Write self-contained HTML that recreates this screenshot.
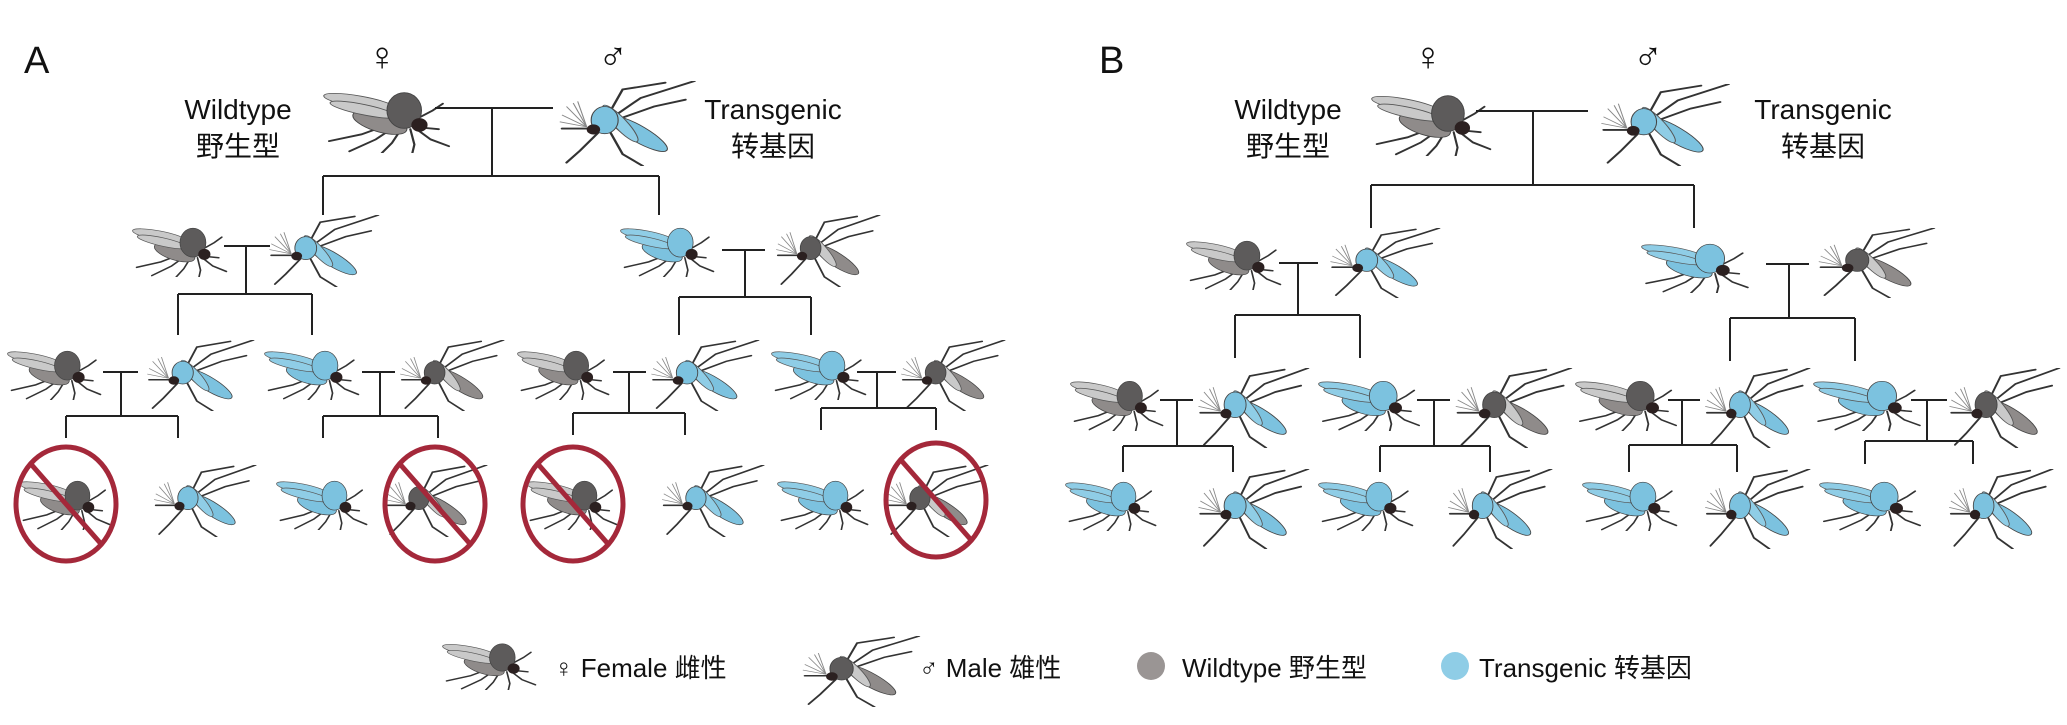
<!DOCTYPE html>
<html><head><meta charset="utf-8"><style>
html,body{margin:0;padding:0;background:#fff;}
svg{display:block;}
text{font-family:"Liberation Sans","Noto Sans CJK SC",sans-serif;fill:#111;}
</style></head><body>
<svg width="2067" height="725" viewBox="0 0 2067 725" xmlns="http://www.w3.org/2000/svg">
<defs>
<symbol id="f" viewBox="0 0 130 80" preserveAspectRatio="none">
 <g stroke="#333" stroke-width="2.2" fill="none" stroke-linecap="round">
  <polyline points="66,46 38,58 6,66"/>
  <polyline points="72,48 52,64 26,78"/>
  <polyline points="78,50 68,68 58,80"/>
  <polyline points="86,52 90,70 88,80"/>
  <polyline points="90,50 106,64 124,72"/>
  <polyline points="92,40 108,30 118,22"/>
  <line x1="96" y1="50" x2="114" y2="52"/>
 </g>
 <ellipse cx="56" cy="44" rx="28" ry="11" transform="rotate(20 56 44)" style="fill:var(--b)" stroke="#444" stroke-width="1"/>
 <ellipse cx="36" cy="20" rx="36" ry="7" transform="rotate(12 36 20)" style="fill:var(--w)" stroke="#555" stroke-width="1"/>
 <ellipse cx="40" cy="29" rx="34" ry="6" transform="rotate(14 40 29)" style="fill:var(--w)" stroke="#555" stroke-width="1"/>
 <ellipse cx="80" cy="30" rx="17" ry="21" style="fill:var(--t)" stroke="#444" stroke-width="1"/>
 <circle cx="95" cy="47" r="8" fill="#2b2020"/>
</symbol>
<symbol id="m" viewBox="0 0 130 100" preserveAspectRatio="none">
 <g stroke="#333" stroke-width="2.2" fill="none" stroke-linecap="round">
  <polyline points="50,38 62,10 100,2"/>
  <polyline points="56,40 78,20 126,0"/>
  <polyline points="60,44 90,30 118,22"/>
  <polyline points="44,56 24,82 12,96"/>
  <polyline points="50,58 62,86 80,100"/>
  <line x1="34" y1="56" x2="8" y2="56"/>
 </g>
 <g stroke="#888" stroke-width="1" fill="none">
  <line x1="30" y1="54" x2="12" y2="30"/><line x1="30" y1="54" x2="18" y2="26"/>
  <line x1="30" y1="54" x2="8" y2="40"/><line x1="30" y1="54" x2="22" y2="24"/>
  <line x1="30" y1="54" x2="6" y2="48"/>
 </g>
 <ellipse cx="76" cy="62" rx="32" ry="9" transform="rotate(38 76 62)" style="fill:var(--b)" stroke="#444" stroke-width="1"/>
 <ellipse cx="60" cy="50" rx="26" ry="6" transform="rotate(55 60 50)" style="fill:var(--w)" stroke="#555" stroke-width="1"/>
 <ellipse cx="46" cy="46" rx="12" ry="16" style="fill:var(--t)" stroke="#444" stroke-width="1"/>
 <circle cx="36" cy="57" r="6" fill="#2b2020"/>
</symbol>
</defs>
<style>
.g{--w:#c9c9c9;--b:#8f8b8a;--t:#5d5b5b;}
.bl{--w:#8fcde6;--b:#7cc2df;--t:#7cc2df;}
.ln{stroke:#222;stroke-width:2;fill:none;}
.no{fill:none;stroke:#a4283a;stroke-width:5;}
</style>

<text x="24" y="73" font-size="38">A</text>
<text x="382" y="70" font-size="40" text-anchor="middle">♀</text>
<text x="613" y="70" font-size="40" text-anchor="middle">♂</text>
<text x="238" y="119" font-size="28" text-anchor="middle">Wildtype</text>
<text x="238" y="156" font-size="28" text-anchor="middle">野生型</text>
<text x="773" y="119" font-size="28" text-anchor="middle">Transgenic</text>
<text x="773" y="156" font-size="28" text-anchor="middle">转基因</text>

<use href="#f" class="g" x="323" y="85" width="132" height="68"/>
<use href="#m" class="bl" x="553" y="81" width="146" height="85"/>
<path class="ln" d="M435 108H553M492 108V176M323 176H659M323 176V215M659 176V215"/>

<use href="#f" class="g" x="132" y="222" width="99" height="55"/>
<use href="#m" class="bl" x="264" y="215" width="118" height="72"/>
<use href="#f" class="bl" x="620" y="222" width="98" height="55"/>
<use href="#m" class="g" x="771" y="215" width="112" height="72"/>
<path class="ln" d="M224 246H270M246 246V294M178 294H312M178 294V335M312 294V335"/>
<path class="ln" d="M722 250H765M745 250V297M679 297H811M679 297V335M811 297V335"/>

<use href="#f" class="g" x="7" y="345" width="98" height="55"/>
<use href="#m" class="bl" x="142" y="340" width="115" height="71"/>
<use href="#f" class="bl" x="264" y="345" width="99" height="55"/>
<use href="#m" class="g" x="395" y="340" width="112" height="71"/>
<use href="#f" class="g" x="517" y="345" width="96" height="55"/>
<use href="#m" class="bl" x="646" y="340" width="116" height="71"/>
<use href="#f" class="bl" x="771" y="345" width="99" height="55"/>
<use href="#m" class="g" x="896" y="340" width="112" height="71"/>
<path class="ln" d="M103 372H138M121 372V416M66 416H178M66 416V438M178 416V438"/>
<path class="ln" d="M362 372H395M380 372V416M323 416H438M323 416V438M438 416V438"/>
<path class="ln" d="M613 372H646M629 372V413M573 413H685M573 413V435M685 413V435"/>
<path class="ln" d="M857 372H896M877 372V408M821 408H936M821 408V430M936 408V430"/>

<use href="#f" class="g" x="19" y="475" width="95" height="55"/>
<use href="#m" class="bl" x="149" y="465" width="110" height="72"/>
<use href="#f" class="bl" x="276" y="475" width="95" height="55"/>
<use href="#m" class="g" x="380" y="465" width="110" height="72"/>
<use href="#f" class="g" x="526" y="475" width="95" height="55"/>
<use href="#m" class="bl" x="657" y="465" width="110" height="72"/>
<use href="#f" class="bl" x="777" y="475" width="95" height="55"/>
<use href="#m" class="g" x="881" y="465" width="110" height="72"/>
<g class="no">
 <ellipse cx="66" cy="504" rx="50" ry="57"/><line x1="30" y1="463" x2="102" y2="545"/>
 <ellipse cx="435" cy="504" rx="50" ry="57"/><line x1="399" y1="463" x2="471" y2="545"/>
 <ellipse cx="573" cy="504" rx="50" ry="57"/><line x1="537" y1="463" x2="609" y2="545"/>
 <ellipse cx="936" cy="500" rx="50" ry="57"/><line x1="900" y1="459" x2="972" y2="541"/>
</g>

<text x="1099" y="73" font-size="38">B</text>
<text x="1428" y="70" font-size="40" text-anchor="middle">♀</text>
<text x="1648" y="70" font-size="40" text-anchor="middle">♂</text>
<text x="1288" y="119" font-size="28" text-anchor="middle">Wildtype</text>
<text x="1288" y="156" font-size="28" text-anchor="middle">野生型</text>
<text x="1823" y="119" font-size="28" text-anchor="middle">Transgenic</text>
<text x="1823" y="156" font-size="28" text-anchor="middle">转基因</text>

<use href="#f" class="g" x="1371" y="88" width="125" height="68"/>
<use href="#m" class="bl" x="1595" y="84" width="138" height="82"/>
<path class="ln" d="M1476 111H1588M1533 111V185M1371 185H1694M1371 185V228M1694 185V228"/>

<use href="#f" class="g" x="1186" y="235" width="99" height="55"/>
<use href="#m" class="bl" x="1325" y="228" width="118" height="70"/>
<use href="#f" class="bl" x="1641" y="238" width="112" height="55"/>
<use href="#m" class="g" x="1813" y="228" width="125" height="70"/>
<path class="ln" d="M1279 263H1318M1298 263V315M1235 315H1360M1235 315V358M1360 315V358"/>
<path class="ln" d="M1766 264H1809M1789 264V318M1730 318H1855M1730 318V361M1855 318V361"/>

<use href="#f" class="g" x="1070" y="375" width="97" height="56"/>
<use href="#m" class="bl" x="1193" y="368" width="119" height="80"/>
<use href="#f" class="bl" x="1318" y="375" width="106" height="56"/>
<use href="#m" class="g" x="1450" y="368" width="125" height="80"/>
<use href="#f" class="g" x="1575" y="375" width="106" height="56"/>
<use href="#m" class="bl" x="1700" y="368" width="113" height="80"/>
<use href="#f" class="bl" x="1813" y="375" width="112" height="56"/>
<use href="#m" class="g" x="1944" y="368" width="119" height="80"/>
<path class="ln" d="M1160 400H1193M1177 400V446M1123 446H1233M1123 446V472M1233 446V472"/>
<path class="ln" d="M1417 400H1450M1434 400V446M1380 446H1490M1380 446V472M1490 446V472"/>
<path class="ln" d="M1668 400H1700M1682 400V445M1629 445H1737M1629 445V472M1737 445V472"/>
<path class="ln" d="M1911 400H1947M1927 400V441M1865 441H1973M1865 441V464M1973 441V464"/>

<use href="#f" class="bl" x="1065" y="476" width="95" height="55"/>
<use href="#m" class="bl" x="1193" y="469" width="119" height="80"/>
<use href="#f" class="bl" x="1318" y="476" width="99" height="55"/>
<use href="#m" class="bl" x="1443" y="469" width="112" height="80"/>
<use href="#f" class="bl" x="1582" y="476" width="99" height="55"/>
<use href="#m" class="bl" x="1700" y="469" width="113" height="80"/>
<use href="#f" class="bl" x="1819" y="476" width="106" height="55"/>
<use href="#m" class="bl" x="1944" y="469" width="112" height="80"/>

<use href="#f" class="g" x="442" y="638" width="98" height="52"/>
<text x="554" y="677" font-size="26">♀ Female 雌性</text>
<use href="#m" class="g" x="797" y="636" width="126" height="71"/>
<text x="919" y="677" font-size="26">♂ Male 雄性</text>
<ellipse cx="1151" cy="666" rx="14" ry="14" fill="#9a9594"/>
<text x="1182" y="677" font-size="26">Wildtype  野生型</text>
<ellipse cx="1455" cy="666" rx="14" ry="14" fill="#8fcde6"/>
<text x="1479" y="677" font-size="26">Transgenic  转基因</text>
</svg>
</body></html>
